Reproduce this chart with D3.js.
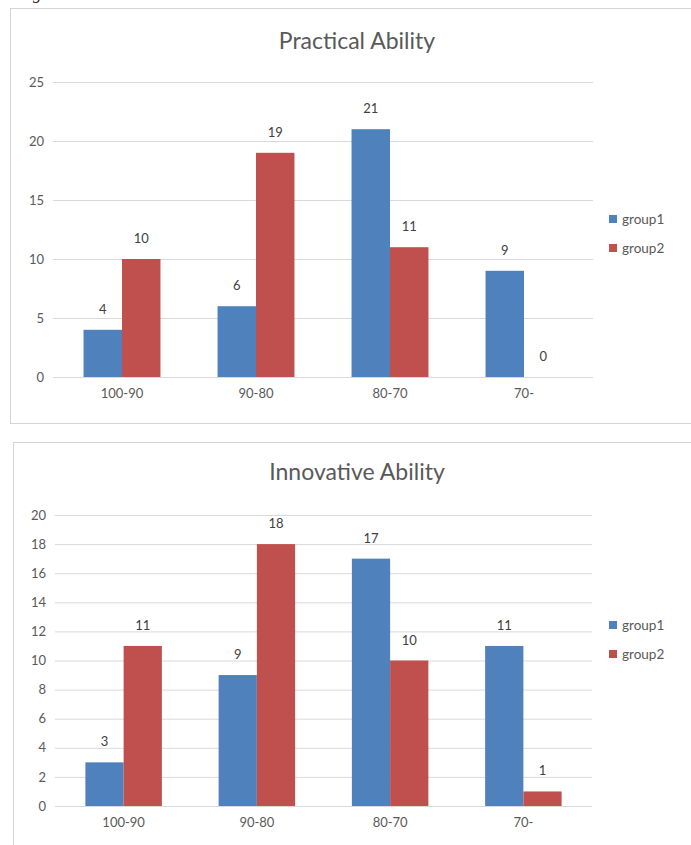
<!DOCTYPE html>
<html>
<head>
<meta charset="utf-8">
<script src="https://cdn.jsdelivr.net/npm/d3@7"></script>
<style>
  html, body { margin: 0; padding: 0; background: #fff; }
  svg { display: block; }
</style>
</head>
<body>
<svg id="fig" width="691" height="845"></svg>
<script>
// Score bands shared by both charts
const categories = ["100-90", "90-80", "80-70", "70-"];
const seriesNames = ["group1", "group2"];

// Practical Ability
const practicalGroup1 = [4, 6, 21, 9];
const practicalGroup2 = [10, 19, 11, 0];
const practicalTicks = [0, 5, 10, 15, 20, 25];

// Innovative Ability
const innovativeGroup1 = [3, 9, 17, 11];
const innovativeGroup2 = [11, 18, 10, 1];
const innovativeTicks = [0, 2, 4, 6, 8, 10, 12, 14, 16, 18, 20];

const colors = ["#4F81BD", "#C0504D"];
const font = "Lato, 'Open Sans', sans-serif";

const svg = d3.select("#fig");

// Tail of the caption line above the figures
svg.append("text")
  .attr("x", 33).attr("y", -1)
  .attr("font-family", "'Liberation Serif', 'Times New Roman', serif")
  .attr("font-style", "italic")
  .attr("font-size", 17)
  .attr("fill", "#222")
  .text("g model.");

function drawChart(opt) {
  const g = svg.append("g");

  // chart frame
  g.append("rect")
    .attr("x", opt.frame[0] + 0.5).attr("y", opt.frame[1] + 0.5)
    .attr("width", opt.frame[2]).attr("height", opt.frame[3])
    .attr("fill", "#fff").attr("stroke", "#d4d4d4").attr("stroke-width", 1);

  const x = d3.scaleBand().domain(categories).range([opt.left, opt.right]);
  const y = d3.scaleLinear().domain([0, d3.max(opt.ticks)]).range([opt.bottom, opt.top]);
  const barW = x.bandwidth() * 0.287;
  const xs = d3.scaleBand().domain(seriesNames).range([-barW, barW]);

  // title
  g.append("text")
    .attr("x", opt.titleX).attr("y", opt.titleY)
    .attr("text-anchor", "middle")
    .attr("font-family", font).attr("font-size", 23)
    .attr("fill", "#595959")
    .text(opt.title);

  // horizontal gridlines + y labels via axis
  const yAxis = d3.axisLeft(y).tickValues(opt.ticks).tickSize(-(opt.right - opt.left + 4)).tickPadding(9);
  const ya = g.append("g").attr("transform", `translate(${opt.left - 2},0)`).call(yAxis);
  ya.select(".domain").remove();
  ya.selectAll(".tick line").attr("stroke", "#d9d9d9").attr("stroke-width", 1);
  ya.selectAll(".tick text").attr("font-family", font).attr("font-size", 13).attr("fill", "#595959");

  // x labels
  const xAxis = d3.axisBottom(x).tickSize(0).tickPadding(12);
  const xa = g.append("g").attr("transform", `translate(0,${opt.bottom})`).call(xAxis);
  xa.select(".domain").remove();
  xa.selectAll(".tick text").attr("font-family", font).attr("font-size", 13).attr("fill", "#595959");

  const rows = [];
  categories.forEach((c, i) => {
    seriesNames.forEach((s, j) => rows.push({ c, s, j, v: opt.values[j][i] }));
  });

  g.append("g").selectAll("rect").data(rows).join("rect")
    .attr("x", d => x(d.c) + x.bandwidth() / 2 + xs(d.s))
    .attr("y", d => y(d.v))
    .attr("width", xs.bandwidth())
    .attr("height", d => y(0) - y(d.v))
    .attr("fill", d => colors[d.j]);

  g.append("g").selectAll("text").data(rows).join("text")
    .attr("x", d => x(d.c) + x.bandwidth() / 2 + xs(d.s) + xs.bandwidth() / 2)
    .attr("y", d => y(d.v) - 16)
    .attr("text-anchor", "middle")
    .attr("font-family", font).attr("font-size", 13)
    .attr("fill", "#404040")
    .text(d => d.v);

  // legend
  const lg = g.append("g").attr("transform", `translate(${opt.legendX},${opt.legendY})`);
  seriesNames.forEach((s, j) => {
    lg.append("rect").attr("x", 0).attr("y", j * 29 - 4).attr("width", 8).attr("height", 8).attr("fill", colors[j]);
    lg.append("text").attr("x", 13).attr("y", j * 29 + 4.5)
      .attr("font-family", font).attr("font-size", 13.5).attr("fill", "#595959").text(s);
  });
}

drawChart({
  title: "Practical Ability",
  values: [practicalGroup1, practicalGroup2],
  ticks: practicalTicks,
  frame: [10, 8, 690, 415],
  left: 55, right: 591, top: 82, bottom: 377,
  titleX: 357, titleY: 49,
  legendX: 609, legendY: 219
});

drawChart({
  title: "Innovative Ability",
  values: [innovativeGroup1, innovativeGroup2],
  ticks: innovativeTicks,
  frame: [13, 442, 690, 420],
  left: 57, right: 590, top: 515, bottom: 806,
  titleX: 357, titleY: 480,
  legendX: 609, legendY: 625
});
</script>
</body>
</html>
